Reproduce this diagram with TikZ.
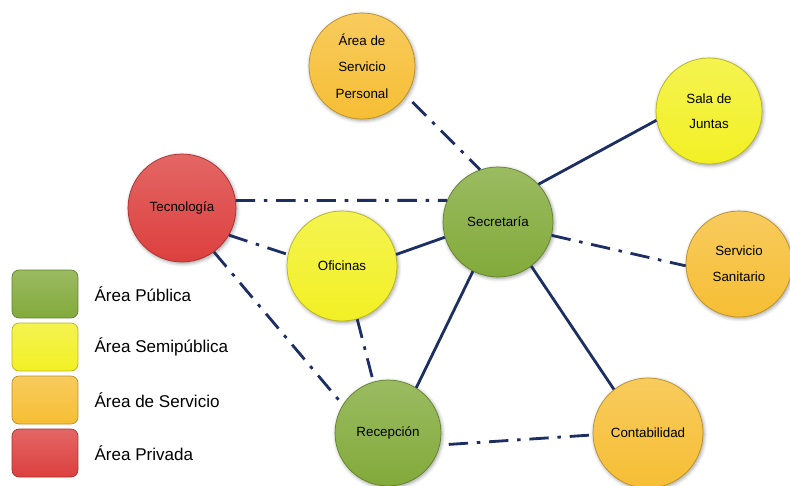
\documentclass[tikz,border=0pt]{standalone}
\usepackage{fontspec}
\setmainfont{Liberation Sans}
\usepackage{tikz}
\usetikzlibrary{positioning, shadows.blur}
\definecolor{zonaVerde}{RGB}{130,170,58}
\definecolor{zonaAmarilla}{RGB}{242,240,36}
\definecolor{zonaNaranja}{RGB}{246,190,52}
\definecolor{zonaRoja}{RGB}{220,64,62}
\definecolor{lineaAzul}{RGB}{28,46,98}

\begin{document}
\begin{tikzpicture}[x=0.02cm, y=-0.02cm, font=\fontsize{7.6}{10}\selectfont,
    zona/.style={circle, draw=#1!75!black, line width=0.4pt,
                 top color=#1!80!white, bottom color=#1,
                 minimum size=2.16cm, inner sep=1pt, align=center,
                 blur shadow={shadow xshift=0.6pt, shadow yshift=-0.8pt, shadow blur steps=5}},
    clave/.style={draw=#1!75!black, line width=0.4pt, rounded corners=4pt,
                  top color=#1!80!white, bottom color=#1,
                  minimum width=1.32cm, minimum height=0.96cm},
    enlace/.style={draw=lineaAzul, line width=1.6pt},
    punteado/.style={enlace, dash pattern=on 11pt off 5pt on 2pt off 5pt}]
\useasboundingbox (0,0) rectangle (790,486);

% AREAS
\node[zona=zonaNaranja, minimum size=2.12cm] (personal) at (362,66)
   {\'Area de\\[5pt] Servicio\\[5pt] Personal};
\node[zona=zonaAmarilla, minimum size=2.12cm] (juntas) at (709,111)
   {Sala de\\[4pt] Juntas};
\node[zona=zonaRoja] (tecno) at (182,208) {Tecnolog\'ia};
\node[zona=zonaVerde, minimum size=2.2cm] (secre) at (498,222) {Secretar\'ia};
\node[zona=zonaAmarilla, minimum size=2.2cm] (ofic) at (342,266) {Oficinas};
\node[zona=zonaNaranja, minimum size=2.12cm] (sanit) at (739,264)
   {Servicio\\[5pt] Sanitario};
\node[zona=zonaVerde, minimum size=2.12cm] (recep) at (388,433) {Recepci\'on};
\node[zona=zonaNaranja, minimum size=2.2cm] (conta) at (648,433) {Contabilidad};

% Enlaces (angulos de salida/llegada en el borde)
\foreach \a/\i/\b/\j in {juntas/190/secre/43, ofic/12/secre/196,
                         recep/58/secre/243, conta/128/secre/-53}
   \draw[enlace] (\a.\i) -- (\b.\j);
\foreach \a/\i/\b/\j in {tecno/8/secre/157, tecno/-30/ofic/168,
                         tecno/-54/recep/148, ofic/-74/recep/106,
                         secre/-14/sanit/182}
   \draw[punteado] (\a.\i) -- (\b.\j);
\draw[punteado, shorten <=5pt] (personal.-34) -- (secre.109);
\draw[punteado, shorten <=5pt] (recep.-13) -- (conta.182);

% Leyenda
\node[clave=zonaVerde] (kpub) at (45,294) {};
\node[clave=zonaAmarilla] (ksemi) at (45,347) {};
\node[clave=zonaNaranja] (kserv) at (45,400) {};
\node[clave=zonaRoja] (kpriv) at (45,453) {};
\foreach \k/\t in {kpub/\'Area P\'ublica, ksemi/\'Area Semip\'ublica,
                   kserv/\'Area de Servicio, kpriv/\'Area Privada}
   \node[font=\fontsize{9.7}{12}\selectfont, anchor=west, xshift=0.2cm]
      (t\k) at (\k.east) {\t};

\end{tikzpicture}
\end{document}
